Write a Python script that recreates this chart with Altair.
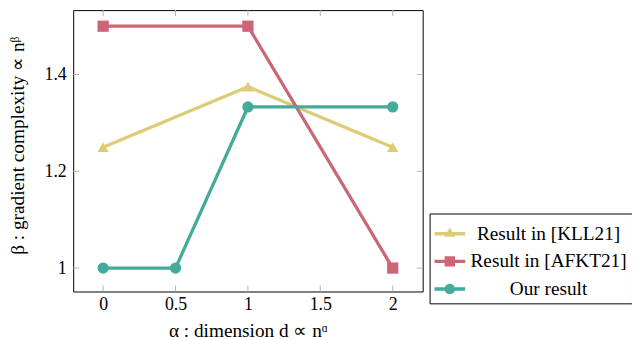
import altair as alt
import pandas as pd

# ---- data ----
series_names = ["Result in [KLL21]", "Result in [AFKT21]", "Our result"]
series_colors = ["#DDCC77", "#CC6677", "#44AA99"]
marker_shapes = ["triangle-up", "square", "circle"]

kll_x = [0, 1, 2]
kll_y = [1.25, 1.375, 1.25]
afkt_x = [0, 1, 2]
afkt_y = [1.5, 1.5, 1.0]
ours_x = [0, 0.5, 1, 2]
ours_y = [1.0, 1.0, 1.333, 1.333]

x_ticks = [0, 0.5, 1, 1.5, 2]
y_ticks = [1, 1.2, 1.4]

x_title = "α : dimension d ∝ nᵅ"
y_title = "β : gradient complexity ∝ nᵝ"

# ---- layout / style ----
W, H = 354, 285
FONT = "Liberation Serif, Times New Roman, serif"
TICK_LEN = 6
TICK_COLOR = "#b4b4b4"

rows = []
for name, xs, ys in zip(series_names, [kll_x, afkt_x, ours_x], [kll_y, afkt_y, ours_y]):
    for xv, yv in zip(xs, ys):
        rows.append({"series": name, "x": xv, "y": yv})
df = pd.DataFrame(rows)

xscale = alt.Scale(domain=[-0.207, 2.207], nice=False, zero=False)
yscale = alt.Scale(domain=[0.9516, 1.5333], nice=False, zero=False)
cscale = alt.Scale(domain=series_names, range=series_colors)

xaxis = alt.Axis(values=x_ticks, format="~g", title=x_title, labelBaseline="alphabetic",
                 labelPadding=18.7, titleY=45.7, titleBaseline="alphabetic",
                 labelFlush=False, labelOverlap=False)
yaxis = alt.Axis(values=y_ticks, format="~g", title=y_title, labelPadding=7,
                 labelBaseline="middle", titleAngle=270, titleX=-50, titleY=137,
                 titleAlign="center", titleBaseline="alphabetic", labelOverlap=False)

X = alt.X("x:Q", scale=xscale, axis=xaxis)
Y = alt.Y("y:Q", scale=yscale, axis=yaxis)

# legend symbols: line segment with the marker on it
legend_paths = [
    "M-1,-0.11H1V0.11H-1Z M0,-0.39L0.36,0.2L-0.36,0.2Z",
    "M-1,-0.11H1V0.11H-1Z M-0.34,-0.34H0.34V0.34H-0.34Z",
    "M-1,-0.11H1V0.11H-1Z M-0.34,0A0.34,0.34 0 1,1 0.34,0A0.34,0.34 0 1,1 -0.34,0Z",
]
leg = alt.Legend(orient="none", legendX=361, legendY=206, title=None,
                 strokeColor="black", fillColor="white", padding=5, cornerRadius=0,
                 labelFont=FONT, labelFontSize=19.5, labelColor="black",
                 labelAlign="center", labelOffset=84.5, labelLimit=400,
                 symbolSize=961, symbolStrokeWidth=0, symbolOpacity=1, rowPadding=3)
COL = alt.Color("series:N", scale=cscale, legend=leg)

# inward tick marks on all four sides
xt = pd.DataFrame({"x": x_ticks})
yt = pd.DataFrame({"y": y_ticks})
tick_layers = [
    alt.Chart(xt).mark_rule(color=TICK_COLOR, strokeWidth=1).encode(x=X, y=alt.value(0), y2=alt.value(TICK_LEN)),
    alt.Chart(xt).mark_rule(color=TICK_COLOR, strokeWidth=1).encode(x=X, y=alt.value(H - TICK_LEN), y2=alt.value(H)),
    alt.Chart(yt).mark_rule(color=TICK_COLOR, strokeWidth=1).encode(y=Y, x=alt.value(0), x2=alt.value(TICK_LEN)),
    alt.Chart(yt).mark_rule(color=TICK_COLOR, strokeWidth=1).encode(y=Y, x=alt.value(W - TICK_LEN), x2=alt.value(W)),
]

series_layers = []
for name, shape in zip(series_names, marker_shapes):
    base = alt.Chart(df).transform_filter(alt.datum.series == name)
    series_layers.append(base.mark_line(strokeWidth=3.3).encode(x=X, y=Y, color=COL))
    series_layers.append(base.mark_point(filled=True, opacity=1, size=130, shape=shape)
                         .encode(x=X, y=Y, color=COL))

legend_layer = (alt.Chart(pd.DataFrame({"series": series_names}))
                .transform_filter("false")
                .mark_point(filled=True)
                .encode(color=COL,
                        shape=alt.Shape("series:N",
                                        scale=alt.Scale(domain=series_names, range=legend_paths),
                                        legend=leg)))

chart = (alt.layer(*tick_layers, *series_layers, legend_layer)
         .properties(width=W, height=H,
                     autosize=alt.AutoSizeParams(type="none"),
                     padding={"left": 66, "top": 0, "right": 212, "bottom": 47})
         .configure_view(stroke="black", strokeWidth=1)
         .configure_axis(grid=False, domain=False, ticks=False, tickSize=0,
                         labelFont=FONT, titleFont=FONT, labelFontSize=18, titleFontSize=19.5,
                         labelColor="black", titleColor="black", titleFontWeight="normal"))

chart.save("out.html", embed_options={"renderer": "svg", "actions": False})
